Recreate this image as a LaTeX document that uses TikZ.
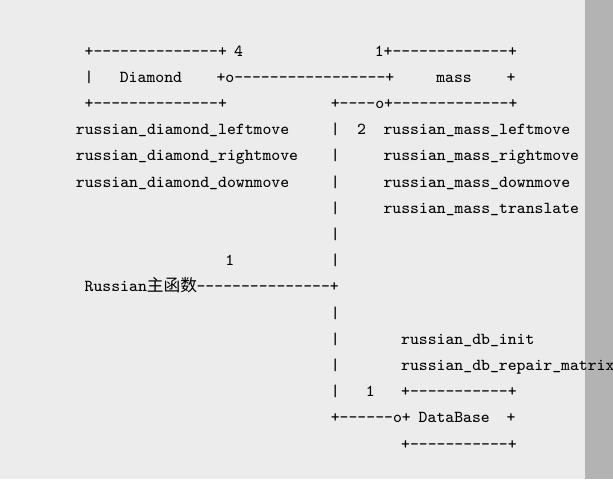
\documentclass[tikz,border=0pt]{standalone}
\usepackage{fontspec}
\newfontfamily\cjk{Noto Sans CJK SC}
\definecolor{pagebg}{HTML}{ECECEC}
\definecolor{barbg}{HTML}{B3B3B3}
\newcommand\dsh[1]{\foreach\k in {1,...,#1}{-}}

\begin{document}
\begin{tikzpicture}[x=4.395pt, y=-13.1pt,
    txt/.style={anchor=base west, inner sep=0pt, font=\ttfamily\fontsize{8.37}{10}\selectfont}]
    \fill [pagebg] (0pt,0pt) rectangle (306.5pt,-239.5pt);
    \fill [barbg] (292.5pt,0pt) rectangle (306.5pt,-239.5pt);
    \useasboundingbox (0pt,0pt) rectangle (306.5pt,-239.5pt);
    \begin{scope}[shift={(37.75pt,-28pt)}]
    % Diamond box
    \node [txt] (dtop) at (1,0) {+\dsh{14}+};
    \node [txt] (dfour) at (18,0) {4};
    \node [txt] (dleft) at (1,1) {|};
    \node [txt] (dname) at (5,1) {Diamond};
    \node [txt] (dlink) at (16,1) {+o\dsh{17}+};
    \node [txt] (dbot) at (1,2) {+\dsh{14}+};
    \node [txt] (dleftmove) at (0,3) {russian\_diamond\_leftmove};
    \node [txt] (drightmove) at (0,4) {russian\_diamond\_rightmove};
    \node [txt] (ddownmove) at (0,5) {russian\_diamond\_downmove};
    % mass box
    \node [txt] (mtop) at (34,0) {1+\dsh{13}+};
    \node [txt] (mname) at (41,1) {mass};
    \node [txt] (mright) at (49,1) {+};
    \node [txt] (mbot) at (29,2) {+\dsh{4}o+\dsh{13}+};
    \node [txt] (mtwo) at (32,3) {2};
    \node [txt] (mleftmove) at (35,3) {russian\_mass\_leftmove};
    \node [txt] (mrightmove) at (35,4) {russian\_mass\_rightmove};
    \node [txt] (mdownmove) at (35,5) {russian\_mass\_downmove};
    \node [txt] (mtranslate) at (35,6) {russian\_mass\_translate};
    % trunk
    \foreach \r in {3,...,8,10,11,12,13}
        \node [txt] (bar\r) at (29,\r) {|};
    \node [txt] (mainone) at (17,8) {1};
    \node [txt] (main) at (1,9) {Russian{\cjk 主函数}};
    \node [txt, anchor=base east] (mainlink) at (30,9) {\dsh{15}+};
    % DataBase box
    \node [txt] (dbinit) at (37,11) {russian\_db\_init};
    \node [txt] (dbrepair) at (37,12) {russian\_db\_repair\_matrix};
    \node [txt] (dbone) at (33,13) {1};
    \node [txt] (dbtop) at (37,13) {+\dsh{11}+};
    \node [txt] (dblink) at (29,14) {+\dsh{6}o+};
    \node [txt] (dbname) at (39,14) {DataBase};
    \node [txt] (dbright) at (49,14) {+};
    \node [txt] (dbbot) at (37,15) {+\dsh{11}+};
    \end{scope}
\end{tikzpicture}
\end{document}
